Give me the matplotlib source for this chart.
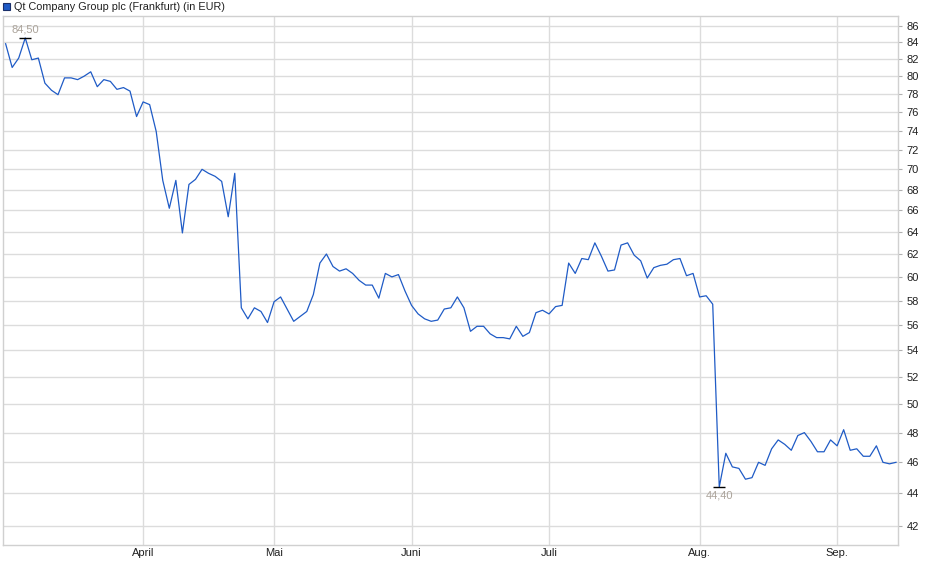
import numpy as np
import matplotlib.pyplot as plt
from matplotlib.patches import Rectangle

plt.rcParams['font.family'] = ['Liberation Sans', 'DejaVu Sans']

# Closing prices (EUR), one per trading point
prices = [
    83.8, 81.0, 82.1, 84.5, 81.9, 82.1, 79.2, 78.4, 77.9, 79.8,
    79.8, 79.6, 80.0, 80.5, 78.8, 79.6, 79.4, 78.5, 78.7, 78.3,
    75.5, 77.1, 76.8, 73.9, 68.9, 66.2, 68.9, 63.9, 68.5, 69.0,
    70.0, 69.6, 69.3, 68.8, 65.4, 69.6, 57.4, 56.5, 57.4, 57.1,
    56.2, 57.9, 58.3, 57.3, 56.3, 56.7, 57.1, 58.5, 61.2, 62.0,
    60.9, 60.5, 60.7, 60.3, 59.7, 59.3, 59.3, 58.2, 60.3, 60.0,
    60.2, 58.8, 57.6, 56.9, 56.5, 56.3, 56.4, 57.3, 57.4, 58.3,
    57.4, 55.5, 55.9, 55.9, 55.3, 55.0, 55.0, 54.9, 55.9, 55.1,
    55.4, 57.0, 57.2, 56.9, 57.5, 57.6, 61.2, 60.3, 61.6, 61.5,
    63.0, 61.8, 60.5, 60.6, 62.8, 63.0, 61.9, 61.4, 59.9, 60.8,
    61.0, 61.1, 61.5, 61.6, 60.1, 60.3, 58.3, 58.4, 57.7, 44.4,
    46.6, 45.7, 45.6, 44.9, 45.0, 46.0, 45.8, 46.9, 47.5, 47.2,
    46.8, 47.8, 48.0, 47.4, 46.7, 46.7, 47.5, 47.1, 48.2, 46.8,
    46.9, 46.4, 46.4, 47.1, 46.0, 45.9, 46.0,
]

# Month starts (point index) and labels
month_pos = [21, 41, 62, 83, 106, 127]
month_labels = ['April', 'Mai', 'Juni', 'Juli', 'Aug.', 'Sep.']

y_ticks = list(range(42, 87, 2))

title = 'Qt Company Group plc (Frankfurt) (in EUR)'

line_color = '#1f5bc6'
grid_color = '#dcdcdc'
label_color = '#aba39a'

W, H = 940, 579
fig = plt.figure(figsize=(W / 100, H / 100), dpi=100)
ax = fig.add_axes([3 / W, 34 / H, 895 / W, 529 / H])

x = np.arange(len(prices))
ax.plot(x, prices, color=line_color, lw=0.9)

ax.set_yscale('log')
ax.set_ylim(40.86, 87.2)
ax.set_xlim(-0.4, len(prices) - 1 + 0.3)

ax.yaxis.set_major_locator(plt.FixedLocator(y_ticks))
ax.yaxis.set_minor_locator(plt.NullLocator())
ax.set_yticklabels([str(t) for t in y_ticks])
ax.yaxis.tick_right()
ax.tick_params(axis='y', length=3, color='#b0b0b0', labelsize=8, pad=3,
               labelcolor='#202020')

ax.set_xticks(month_pos)
ax.set_xticklabels(month_labels)
ax.tick_params(axis='x', length=0, labelsize=8, pad=2, labelcolor='#202020')

ax.grid(True, color=grid_color, lw=1)
ax.set_axisbelow(True)
for s in ax.spines.values():
    s.set_color('#d0d0d0')
    s.set_linewidth(1)

# High / low markers
i_max = int(np.argmax(prices))
i_min = int(np.argmin(prices))
ax.plot([i_max], [prices[i_max]], marker='_', ms=8, mew=1.0, color='black')
ax.plot([i_min], [prices[i_min]], marker='_', ms=8, mew=1.0, color='black')
ax.annotate(f'{prices[i_max]:.2f}'.replace('.', ','), (i_max, prices[i_max]),
            xytext=(0, 2.5), textcoords='offset points', ha='center', va='bottom',
            fontsize=8, color=label_color)
ax.annotate(f'{prices[i_min]:.2f}'.replace('.', ','), (i_min, prices[i_min]),
            xytext=(0, -2.5), textcoords='offset points', ha='center', va='top',
            fontsize=8, color=label_color)

# Legend-style title
fig.add_artist(Rectangle((3 / W, (H - 10) / H), 7 / W, 7 / H,
                         transform=fig.transFigure, facecolor=line_color,
                         edgecolor='#1a2f6a', lw=0.8))
fig.text(14 / W, (H - 6.5) / H, title, fontsize=7.8, va='center', ha='left',
         color='#202020')

fig.savefig('out.png', dpi=100)
